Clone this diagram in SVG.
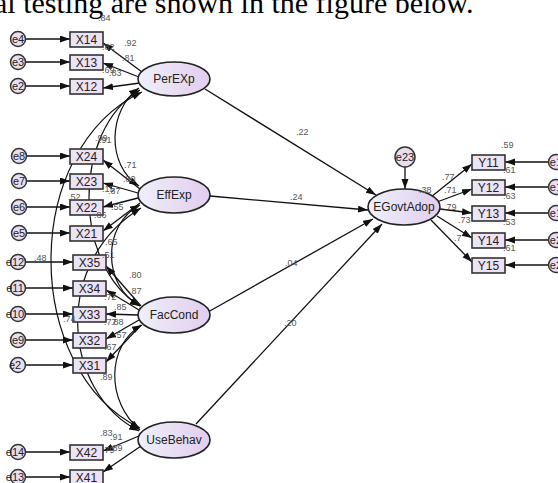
<svg xmlns="http://www.w3.org/2000/svg" width="558" height="483" viewBox="0 0 558 483">
  <style>
    .box { fill: url(#boxFill); stroke: #333; stroke-width: 1.6; }
    .lat { fill: url(#latFill); stroke: #222; stroke-width: 1.6; }
    .err { fill: #e9ddf0; stroke: #333; stroke-width: 1.5; }
    .ln { stroke: #111; stroke-width: 1.3; fill: none; marker-end: url(#ah); }
    .cov { stroke: #111; stroke-width: 1.2; fill: none; marker-start: url(#ahs); marker-end: url(#ah); }
    .vt { font-family: "Liberation Sans", Arial, sans-serif; font-size: 12px; fill: #222; text-anchor: middle; }
    .et { font-family: "Liberation Sans", Arial, sans-serif; font-size: 11px; fill: #222; text-anchor: middle; }
    .est { font-family: "Liberation Sans", Arial, sans-serif; font-size: 9px; fill: #555; }
    .cap { font-family: "Liberation Serif", "Times New Roman", serif; font-size: 30px; fill: #000; }
  </style>
  <defs>
    <linearGradient id="latFill" x1="0" y1="0" x2="1" y2="0">
      <stop offset="0" stop-color="#eef0fa"/>
      <stop offset="1" stop-color="#e2cdee"/>
    </linearGradient>
    <linearGradient id="boxFill" x1="0" y1="0" x2="1" y2="0">
      <stop offset="0" stop-color="#e8e6f6"/>
      <stop offset="1" stop-color="#f0dff2"/>
    </linearGradient>
    <marker id="ah" markerUnits="userSpaceOnUse" markerWidth="11" markerHeight="8" refX="10" refY="3.5" orient="auto">
      <path d="M0,0 L10,3.5 L0,7 z" fill="#111"/>
    </marker>
    <marker id="ahs" markerUnits="userSpaceOnUse" markerWidth="11" markerHeight="8" refX="10" refY="3.5" orient="auto-start-reverse">
      <path d="M0,0 L10,3.5 L0,7 z" fill="#111"/>
    </marker>
  </defs>

  <rect width="558" height="483" fill="#fff"/>

  <!-- caption line cut off at the top -->
  <text class="cap" x="-6" y="13">al testing are shown in the figure below.</text>

  <!-- connectors -->
  <g id="connectors">
    <!-- error terms to indicators (left) -->
    <line class="ln" x1="26" y1="39" x2="70" y2="39"/>
    <line class="ln" x1="26" y1="62" x2="70" y2="62"/>
    <line class="ln" x1="26" y1="86" x2="70" y2="86"/>
    <line class="ln" x1="26" y1="156" x2="70" y2="156"/>
    <line class="ln" x1="26" y1="181" x2="70" y2="181"/>
    <line class="ln" x1="26" y1="207" x2="70" y2="207"/>
    <line class="ln" x1="26" y1="233" x2="70" y2="233"/>
    <line class="ln" x1="26" y1="262" x2="73" y2="262"/>
    <line class="ln" x1="26" y1="288" x2="73" y2="288"/>
    <line class="ln" x1="26" y1="314" x2="73" y2="314"/>
    <line class="ln" x1="26" y1="340" x2="73" y2="340"/>
    <line class="ln" x1="26" y1="365" x2="73" y2="365"/>
    <line class="ln" x1="26" y1="452" x2="70" y2="452"/>
    <line class="ln" x1="26" y1="477" x2="70" y2="477"/>

    <!-- loadings: PerEXp -->
    <line class="ln" x1="142" y1="72" x2="103" y2="43"/>
    <line class="ln" x1="139" y1="77" x2="103" y2="63"/>
    <line class="ln" x1="140" y1="83" x2="103" y2="88"/>
    <!-- loadings: EffExp -->
    <line class="ln" x1="140" y1="189" x2="103" y2="160"/>
    <line class="ln" x1="138" y1="193" x2="103" y2="183"/>
    <line class="ln" x1="138" y1="198" x2="103" y2="207"/>
    <line class="ln" x1="140" y1="203" x2="103" y2="231"/>
    <!-- loadings: FacCond -->
    <line class="ln" x1="141" y1="306" x2="106" y2="266"/>
    <line class="ln" x1="139" y1="310" x2="106" y2="290"/>
    <line class="ln" x1="138" y1="315" x2="106" y2="314"/>
    <line class="ln" x1="139" y1="320" x2="106" y2="339"/>
    <line class="ln" x1="141" y1="325" x2="106" y2="362"/>
    <!-- loadings: UseBehav -->
    <line class="ln" x1="139" y1="436" x2="103" y2="451"/>
    <line class="ln" x1="141" y1="446" x2="103" y2="472"/>

    <!-- covariances among the exogenous constructs -->
    <path class="cov" d="M139,88 C108,110 106,165 139,186"/>
    <path class="cov" d="M140,90 C72,130 72,265 140,306"/>
    <path class="cov" d="M142,92 C20,150 22,370 140,428"/>
    <path class="cov" d="M140,205 C102,225 102,285 140,306"/>
    <path class="cov" d="M141,208 C52,262 62,392 139,431"/>
    <path class="cov" d="M142,325 C106,345 106,402 140,430"/>

    <!-- structural paths -->
    <line class="ln" x1="205" y1="89" x2="376" y2="195"/>
    <line class="ln" x1="210" y1="196" x2="368" y2="210"/>
    <line class="ln" x1="208" y1="312" x2="373" y2="219"/>
    <line class="ln" x1="196" y1="424" x2="382" y2="224"/>

    <!-- disturbance -->
    <line class="ln" x1="405" y1="167" x2="405" y2="189"/>

    <!-- EGovtAdop to its indicators -->
    <line class="ln" x1="431" y1="197" x2="472" y2="164"/>
    <line class="ln" x1="437" y1="202" x2="472" y2="189"/>
    <line class="ln" x1="440" y1="209" x2="472" y2="213"/>
    <line class="ln" x1="437" y1="216" x2="472" y2="238"/>
    <line class="ln" x1="431" y1="220" x2="472" y2="262"/>

    <!-- error terms to indicators (right) -->
    <line class="ln" x1="549" y1="162" x2="505" y2="162"/>
    <line class="ln" x1="549" y1="187" x2="505" y2="187"/>
    <line class="ln" x1="549" y1="213" x2="505" y2="213"/>
    <line class="ln" x1="549" y1="240" x2="505" y2="240"/>
    <line class="ln" x1="549" y1="265" x2="505" y2="265"/>
  </g>

  <!-- error terms -->
  <g id="e4"><circle class="err" cx="18" cy="39" r="7.5"/><text class="et" x="18" y="43">e4</text></g>
  <g id="e3"><circle class="err" cx="18" cy="62" r="7.5"/><text class="et" x="18" y="66">e3</text></g>
  <g id="e2"><circle class="err" cx="18" cy="86" r="7.5"/><text class="et" x="18" y="90">e2</text></g>
  <g id="e8"><circle class="err" cx="19" cy="156" r="7.5"/><text class="et" x="19" y="160">e8</text></g>
  <g id="e7"><circle class="err" cx="19" cy="181" r="7.5"/><text class="et" x="19" y="185">e7</text></g>
  <g id="e6"><circle class="err" cx="19" cy="207" r="7.5"/><text class="et" x="19" y="211">e6</text></g>
  <g id="e5"><circle class="err" cx="19" cy="233" r="7.5"/><text class="et" x="19" y="237">e5</text></g>
  <g id="e12"><circle class="err" cx="18" cy="262" r="7.5"/><text class="et" x="15" y="266">e12</text></g>
  <g id="e11"><circle class="err" cx="18" cy="288" r="7.5"/><text class="et" x="15" y="292">e11</text></g>
  <g id="e10"><circle class="err" cx="18" cy="314" r="7.5"/><text class="et" x="15" y="318">e10</text></g>
  <g id="e9"><circle class="err" cx="18" cy="340" r="7.5"/><text class="et" x="18" y="344">e9</text></g>
  <g id="e13b"><circle class="err" cx="18" cy="365" r="7.5"/><text class="et" x="15" y="369">e2</text></g>
  <g id="e14"><circle class="err" cx="18" cy="452" r="7.5"/><text class="et" x="15" y="456">e14</text></g>
  <g id="e13"><circle class="err" cx="18" cy="477" r="7.5"/><text class="et" x="15" y="481">e13</text></g>
  <g id="e23"><circle class="err" cx="405" cy="157" r="10"/><text class="et" x="405" y="161">e23</text></g>
  <g id="e17"><circle class="err" cx="556" cy="162" r="7.5"/><text class="et" x="559" y="166">e17</text></g>
  <g id="e18"><circle class="err" cx="556" cy="187" r="7.5"/><text class="et" x="559" y="191">e18</text></g>
  <g id="e19"><circle class="err" cx="556" cy="213" r="7.5"/><text class="et" x="559" y="217">e19</text></g>
  <g id="e20"><circle class="err" cx="556" cy="240" r="7.5"/><text class="et" x="559" y="244">e20</text></g>
  <g id="e21"><circle class="err" cx="556" cy="265" r="7.5"/><text class="et" x="559" y="269">e21</text></g>

  <!-- observed indicators -->
  <g id="X14"><rect class="box" x="70" y="32" width="33" height="15"/><text class="vt" x="86.5" y="44">X14</text></g>
  <g id="X13"><rect class="box" x="70" y="55" width="33" height="15"/><text class="vt" x="86.5" y="67">X13</text></g>
  <g id="X12"><rect class="box" x="70" y="79" width="33" height="15"/><text class="vt" x="86.5" y="91">X12</text></g>
  <g id="X24"><rect class="box" x="70" y="149" width="33" height="15"/><text class="vt" x="86.5" y="161">X24</text></g>
  <g id="X23"><rect class="box" x="70" y="174" width="33" height="15"/><text class="vt" x="86.5" y="186">X23</text></g>
  <g id="X22"><rect class="box" x="70" y="200" width="33" height="15"/><text class="vt" x="86.5" y="212">X22</text></g>
  <g id="X21"><rect class="box" x="70" y="226" width="33" height="15"/><text class="vt" x="86.5" y="238">X21</text></g>
  <g id="X35"><rect class="box" x="73" y="255" width="33" height="15"/><text class="vt" x="89.5" y="267">X35</text></g>
  <g id="X34"><rect class="box" x="73" y="281" width="33" height="15"/><text class="vt" x="89.5" y="293">X34</text></g>
  <g id="X33"><rect class="box" x="73" y="307" width="33" height="15"/><text class="vt" x="89.5" y="319">X33</text></g>
  <g id="X32"><rect class="box" x="73" y="333" width="33" height="15"/><text class="vt" x="89.5" y="345">X32</text></g>
  <g id="X31"><rect class="box" x="73" y="358" width="33" height="15"/><text class="vt" x="89.5" y="370">X31</text></g>
  <g id="X42"><rect class="box" x="70" y="445" width="33" height="15"/><text class="vt" x="86.5" y="457">X42</text></g>
  <g id="X41"><rect class="box" x="70" y="470" width="33" height="15"/><text class="vt" x="86.5" y="482">X41</text></g>
  <g id="Y11"><rect class="box" x="472" y="155" width="33" height="15"/><text class="vt" x="488.5" y="167">Y11</text></g>
  <g id="Y12"><rect class="box" x="472" y="180" width="33" height="15"/><text class="vt" x="488.5" y="192">Y12</text></g>
  <g id="Y13"><rect class="box" x="472" y="206" width="33" height="15"/><text class="vt" x="488.5" y="218">Y13</text></g>
  <g id="Y14"><rect class="box" x="472" y="233" width="33" height="15"/><text class="vt" x="488.5" y="245">Y14</text></g>
  <g id="Y15"><rect class="box" x="472" y="258" width="33" height="15"/><text class="vt" x="488.5" y="270">Y15</text></g>

  <!-- latent constructs -->
  <g id="PerEXp"><ellipse class="lat" cx="174" cy="79" rx="36" ry="17"/><text class="vt" x="174" y="83">PerEXp</text></g>
  <g id="EffExp"><ellipse class="lat" cx="174" cy="195" rx="36" ry="18"/><text class="vt" x="174" y="199">EffExp</text></g>
  <g id="FacCond"><ellipse class="lat" cx="174" cy="315" rx="36" ry="18"/><text class="vt" x="174" y="319">FacCond</text></g>
  <g id="UseBehav"><ellipse class="lat" cx="174" cy="440" rx="36" ry="18"/><text class="vt" x="174" y="444">UseBehav</text></g>
  <g id="EGovtAdop"><ellipse class="lat" cx="404" cy="207" rx="36" ry="18"/><text class="vt" x="404" y="211">EGovtAdop</text></g>

  <!-- estimates -->
  <g id="estimates">
    <text class="est" x="98" y="21">.84</text>
    <text class="est" x="124" y="46">.92</text>
    <text class="est" x="102" y="50">.82</text>
    <text class="est" x="122" y="61">.81</text>
    <text class="est" x="102" y="73">.69</text>
    <text class="est" x="109" y="76">.83</text>
    <text class="est" x="95" y="141">.99</text>
    <text class="est" x="99" y="143">.91</text>
    <text class="est" x="124" y="168">.71</text>
    <text class="est" x="123" y="182">.80</text>
    <text class="est" x="102" y="192">.15</text>
    <text class="est" x="108" y="194">.87</text>
    <text class="est" x="68" y="200">.52</text>
    <text class="est" x="111" y="210">.55</text>
    <text class="est" x="94" y="218">.86</text>
    <text class="est" x="105" y="245">.65</text>
    <text class="est" x="34" y="261">.48</text>
    <text class="est" x="102" y="258">.51</text>
    <text class="est" x="129" y="278">.80</text>
    <text class="est" x="129" y="294">.87</text>
    <text class="est" x="104" y="300">.72</text>
    <text class="est" x="114" y="310">.85</text>
    <text class="est" x="63" y="322">.74</text>
    <text class="est" x="104" y="325">.77</text>
    <text class="est" x="111" y="325">.88</text>
    <text class="est" x="114" y="338">.57</text>
    <text class="est" x="104" y="350">.67</text>
    <text class="est" x="100" y="380">.89</text>
    <text class="est" x="100" y="436">.83</text>
    <text class="est" x="110" y="440">.91</text>
    <text class="est" x="102" y="453">.79</text>
    <text class="est" x="110" y="451">.89</text>
    <text class="est" x="296" y="135">.22</text>
    <text class="est" x="290" y="200">.24</text>
    <text class="est" x="285" y="266">.04</text>
    <text class="est" x="284" y="326">.20</text>
    <text class="est" x="419" y="193">.38</text>
    <text class="est" x="501" y="148">.59</text>
    <text class="est" x="442" y="180">.77</text>
    <text class="est" x="444" y="193">.71</text>
    <text class="est" x="444" y="210">.79</text>
    <text class="est" x="458" y="223">.73</text>
    <text class="est" x="454" y="241">.7</text>
    <text class="est" x="503" y="173">.61</text>
    <text class="est" x="503" y="199">.63</text>
    <text class="est" x="503" y="225">.53</text>
    <text class="est" x="503" y="251">.61</text>
  </g>
</svg>
